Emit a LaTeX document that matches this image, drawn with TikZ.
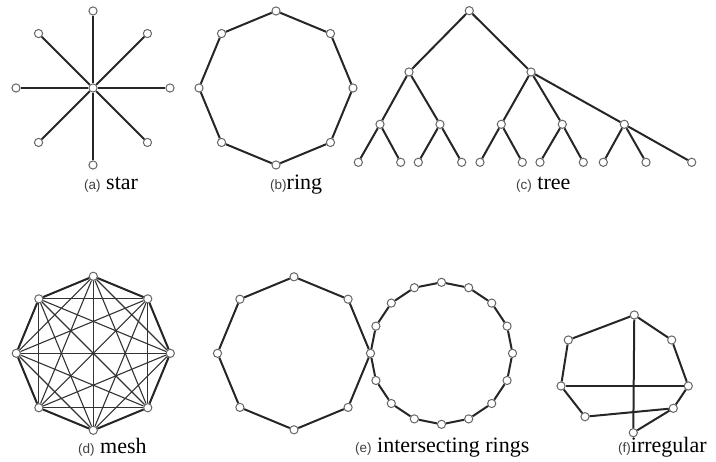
\documentclass[tikz,border=0pt]{standalone}
\usepackage{fontspec}
\setmainfont{Liberation Serif}
\newfontfamily\lblsans{Liberation Sans}
\newcommand\subtag[1]{{\lblsans\fontsize{13.5}{13.5}\selectfont\color{black!75}(#1)}}
\begin{document}
\begin{tikzpicture}[x=1pt,y=-1pt,
  v/.style={circle,draw=black!60,fill=white,line width=1pt,inner sep=0pt,minimum size=8.2pt},
  edge/.style={line width=2pt,black!85},
  chord/.style={line width=1.1pt,black!80},
  lbl/.style={anchor=base west,inner sep=0pt,font=\fontsize{22}{24}\selectfont}]
\useasboundingbox (0,0) rectangle (716,462);

% (a) star
\begin{scope}[shift={(93,88)}]
  \node[v] (sc) at (0,0) {};
  \foreach \k in {0,...,7} \node[v] (s\k) at (\k*45:77) {};
\end{scope}
\foreach \k in {0,...,7} \draw[edge] (sc) -- (s\k);

% (b) ring
\begin{scope}[shift={(276,88)}]
  \foreach \k in {0,...,7} \node[v] (b\k) at (\k*45:77) {};
\end{scope}
\foreach \k in {0,...,7}{
  \pgfmathtruncatemacro\nx{mod(\k+1,8)}
  \draw[edge] (b\k) -- (b\nx);
}

% (c) tree
\node[v] (r) at (469.3,10.7) {};
\node[v] (p1) at (409,72) {};
\node[v] (p2) at (531,72) {};
\node[v] (q1) at (380,124.3) {};
\node[v] (q2) at (440,124.3) {};
\node[v] (q3) at (501.3,124.3) {};
\node[v] (q4) at (562.3,124.3) {};
\node[v] (q5) at (624.3,124.3) {};
\foreach \n/\x in {1/358.3,2/400.7,3/418.3,4/461.7,5/480,6/522.3,7/540,8/583.3,9/603.3,10/646,11/691.7}
  \node[v] (l\n) at (\x,162.3) {};
\foreach \a/\b in {r/p1,r/p2,p1/q1,p1/q2,p2/q3,p2/q4,p2/q5,q1/l1,q1/l2,q2/l3,q2/l4,q3/l5,q3/l6,q4/l7,q4/l8,q5/l9,q5/l10,q5/l11}
  \draw[edge] (\a) -- (\b);

% (d) mesh
\begin{scope}[shift={(93.3,353.3)}]
  \foreach \k in {0,...,7} \node[v] (d\k) at (\k*45:77) {};
\end{scope}
\foreach \i in {0,...,6}{
  \pgfmathtruncatemacro\ni{\i+1}
  \foreach \j in {\ni,...,7}{\draw[chord] (d\i) -- (d\j);}
}
\foreach \k in {0,...,7}{
  \pgfmathtruncatemacro\nx{mod(\k+1,8)}
  \draw[edge] (d\k) -- (d\nx);
}

% (e) intersecting rings
\begin{scope}[shift={(294,353.3)}]
  \foreach \k in {0,...,7} \node[v] (e\k) at (\k*45:76.5) {};
\end{scope}
\begin{scope}[shift={(441.5,353.3)}]
  \foreach \k in {1,...,15} \node[v] (c\k) at (180+\k*22.5:71) {};
\end{scope}
\foreach \k in {0,...,7}{
  \pgfmathtruncatemacro\nx{mod(\k+1,8)}
  \draw[edge] (e\k) -- (e\nx);
}
\draw[edge] (e0) -- (c1);
\foreach \k in {1,...,14}{
  \pgfmathtruncatemacro\nx{\k+1}
  \draw[edge] (c\k) -- (c\nx);
}
\draw[edge] (c15) -- (e0);

% (f) irregular
\node[v] (f1) at (634.3,315) {};
\node[v] (f2) at (671.7,340) {};
\node[v] (f3) at (688.3,386) {};
\node[v] (f4) at (673.3,408.3) {};
\node[v] (f5) at (633.3,432.7) {};
\node[v] (f6) at (585,416.7) {};
\node[v] (f7) at (561,386) {};
\node[v] (f8) at (568.3,340) {};
\foreach \a/\b in {f1/f2,f2/f3,f3/f4,f4/f5,f4/f6,f6/f7,f7/f8,f8/f1,f7/f3,f1/f5}
  \draw[edge] (\a) -- (\b);

% labels
\node[lbl] (la) at (84,190) {\subtag{a} star};
\node[lbl] (lb) at (270,190) {\subtag{b}ring};
\node[lbl] (lc) at (516,190) {\subtag{c} tree};
\node[lbl] (ld) at (78,454) {\subtag{d} mesh};
\node[lbl] (le) at (355,453) {\subtag{e} intersecting rings};
\node[lbl] (lf) at (618,453) {\subtag{f}irregular};
\end{tikzpicture}
\end{document}
